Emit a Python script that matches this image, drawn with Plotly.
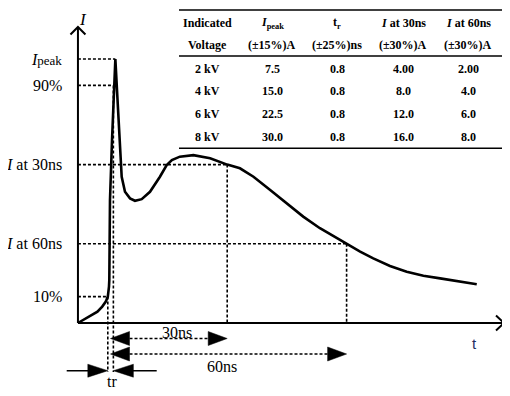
import plotly.graph_objects as go

# ---------------- data ----------------
# schematic ESD current waveform: time in ns (0 = 10 % point), current in % of Ipeak
t_ns = [-7.5, -6.0, -4.3, -2.6, -1.4, -0.5, 0.0, 0.15, 0.3, 0.38, 0.42, 0.55, 1.06, 1.56, 1.9,
        2.31, 2.94, 3.49, 4.32, 5.58, 6.83, 8.52, 10.6, 13.1, 14.8, 16.1, 18.1, 21.5, 25.7, 30.0,
        33.2, 36.6, 40.8, 45.0, 49.1, 53.3, 57.5, 60.0, 63.4, 66.7, 70.9, 75.1, 79.3, 83.5, 87.7, 92.7]
i_pct = [0, 1.4, 2.7, 4.3, 6.2, 8.1, 10, 11.3, 13.8, 16.3, 30, 46.6, 69.3, 92, 100,
         88.3, 69.3, 55.4, 49.7, 47.2, 46.3, 46.9, 49.7, 55.4, 59.8, 61.7, 63.0, 63.6, 62.4, 60,
         58.6, 55.4, 50.4, 45.3, 40.3, 35.9, 32.1, 30, 27.0, 24.5, 21.6, 19.4, 17.9, 16.9, 15.9, 14.7]

level_names = ["<i>I</i><span style='font-size:13px'>peak</span>", "90%",
               "<i>I</i> at 30ns", "<i>I</i> at 60ns", "10%"]
level_vals = [100, 90, 60, 30, 10]
level_times = [1.9, 1.4, 30, 60, 0]      # where each dotted level line ends
T10, T90, T30, T60 = 0, 1.4, 30, 60

# table
tbl_head1 = ["Indicated", "<i>I</i><sub>peak</sub>", "t<sub>r</sub>", "<i>I</i> at 30ns", "<i>I</i> at 60ns"]
tbl_head2 = ["Voltage", "(±15%)A", "(±25%)ns", "(±30%)A", "(±30%)A"]
voltages = ["2 kV", "4 kV", "6 kV", "8 kV"]
ipeak = ["7.5", "15.0", "22.5", "30.0"]
tr = ["0.8", "0.8", "0.8", "0.8"]
i30 = ["4.00", "8.0", "12.0", "16.0"]
i60 = ["2.00", "4.0", "6.0", "8.0"]

# ---------------- layout geometry ----------------
W, H = 510, 396
OFF = 8                      # page body margin
FW, FH = W - OFF, H - OFF    # figure size
PX_PER_NS, PX_PER_PCT = 3.98, 2.64
X0_PX, Y0_PX = 107.8, 323.0


def dx(px):
    return (px - X0_PX) / PX_PER_NS


def dy(py):
    return (Y0_PX - py) / PX_PER_PCT


def px_(px):
    return (px - OFF) / FW


def py_(py):
    return 1 - (py - OFF) / FH


SERIF = "Liberation Serif"
fig = go.Figure()
fig.add_trace(go.Scatter(x=t_ns, y=i_pct, mode="lines",
                         line=dict(color="black", width=2.6), hoverinfo="skip"))

shapes = []
ax_t = t_ns[0]
x_end = dx(504)
y_end = dy(27)
# axes
shapes.append(dict(type="line", x0=ax_t, y0=0, x1=x_end, y1=0, line=dict(color="black", width=2)))
shapes.append(dict(type="line", x0=ax_t, y0=0, x1=ax_t, y1=y_end, line=dict(color="black", width=2)))
# chevrons
a, b = 8 / PX_PER_NS, 7.5 / PX_PER_PCT
shapes.append(dict(type="path", path=f"M {x_end-a},{b} L {x_end},0 L {x_end-a},{-b}",
                   line=dict(color="black", width=2)))
a2, b2 = 7.5 / PX_PER_NS, 7.5 / PX_PER_PCT
shapes.append(dict(type="path", path=f"M {ax_t-a2},{y_end-b2} L {ax_t},{y_end} L {ax_t+a2},{y_end-b2}",
                   line=dict(color="black", width=2)))

DOT = dict(color="black", width=1.6, dash="3px,2px")
# level lines
for v, tt in zip(level_vals, level_times):
    shapes.append(dict(type="line", x0=ax_t, y0=v, x1=tt, y1=v, line=DOT, layer="below"))
# vertical reference lines
y_low = dy(372)
shapes.append(dict(type="line", x0=T10, y0=10, x1=T10, y1=y_low, line=DOT, layer="below"))
shapes.append(dict(type="line", x0=T90, y0=90, x1=T90, y1=y_low, line=DOT, layer="below"))
shapes.append(dict(type="line", x0=T30, y0=60, x1=T30, y1=0, line=DOT, layer="below"))
shapes.append(dict(type="line", x0=T60, y0=30, x1=T60, y1=0, line=DOT, layer="below"))


def tri(tip, y, direction, L=19, h=7):
    base = tip - direction * L / PX_PER_NS
    hh = h / PX_PER_PCT
    return dict(type="path", path=f"M {tip},{y} L {base},{y+hh} L {base},{y-hh} Z",
                fillcolor="black", line=dict(color="black", width=0.5))


start = dx(110.5)
L_ns = 19 / PX_PER_NS
for yrow, tend in [(dy(338.5), T30), (dy(354), T60)]:
    shapes.append(tri(start, yrow, -1))
    shapes.append(tri(tend, yrow, 1))
    shapes.append(dict(type="line", x0=start + L_ns, y0=yrow, x1=tend - L_ns, y1=yrow, line=DOT))
ytr = dy(370.7)
shapes.append(dict(type="line", x0=dx(66.7), y0=ytr, x1=T10 - 1, y1=ytr, line=dict(color="black", width=1.5)))
shapes.append(tri(T10, ytr, 1, L=20, h=6.5))
shapes.append(dict(type="line", x0=dx(156.7), y0=ytr, x1=T90 + 1, y1=ytr, line=dict(color="black", width=1.5)))
shapes.append(tri(T90, ytr, -1, L=20, h=6.5))

# table rules
for yy in [10, 56, 148.3]:
    shapes.append(dict(type="line", xref="paper", yref="paper", x0=px_(179), x1=px_(506),
                       y0=py_(yy), y1=py_(yy), line=dict(color="black", width=1.6)))

ann = []
F16 = dict(family=SERIF, size=16, color="black")
for name, v in zip(level_names, level_vals):
    ann.append(dict(x=px_(64), xref="paper", y=v, yref="y", text=name, showarrow=False,
                    xanchor="right", yanchor="middle", font=F16))


def label(x, y, text, font, yanchor="middle"):
    ann.append(dict(x=px_(x), y=py_(y), xref="paper", yref="paper", text=text, showarrow=False,
                    xanchor="center", yanchor=yanchor, font=font))


label(83, 8, "<i>I</i>", dict(family=SERIF, size=17, color="black"), yanchor="top")
label(177, 332, "30ns", F16)
label(222, 366, "60ns", F16)
label(112, 381, "tr", F16)
label(474, 343, "t", dict(family="Liberation Sans", size=15, color="#1f2f5f"))

col_x = [207, 272, 337, 403, 468]
FT = dict(family=SERIF, size=12, color="black")
rows = [(23, tbl_head1), (45, tbl_head2)]
data_rows = list(zip(voltages, ipeak, tr, i30, i60))
for yy, r in zip([68.5, 91, 114, 137], data_rows):
    rows.append((yy, list(r)))
for yy, r in rows:
    for cx, txt in zip(col_x, r):
        label(cx, yy, f"<b>{txt}</b>", FT)

fig.update_layout(
    width=FW, height=FH, margin=dict(l=0, r=0, t=0, b=0),
    paper_bgcolor="white", plot_bgcolor="white", showlegend=False,
    xaxis=dict(visible=False, range=[dx(OFF), dx(W)], fixedrange=True),
    yaxis=dict(visible=False, range=[dy(H), dy(OFF)], fixedrange=True),
    shapes=shapes, annotations=ann,
)
fig.write_html("out.html")
